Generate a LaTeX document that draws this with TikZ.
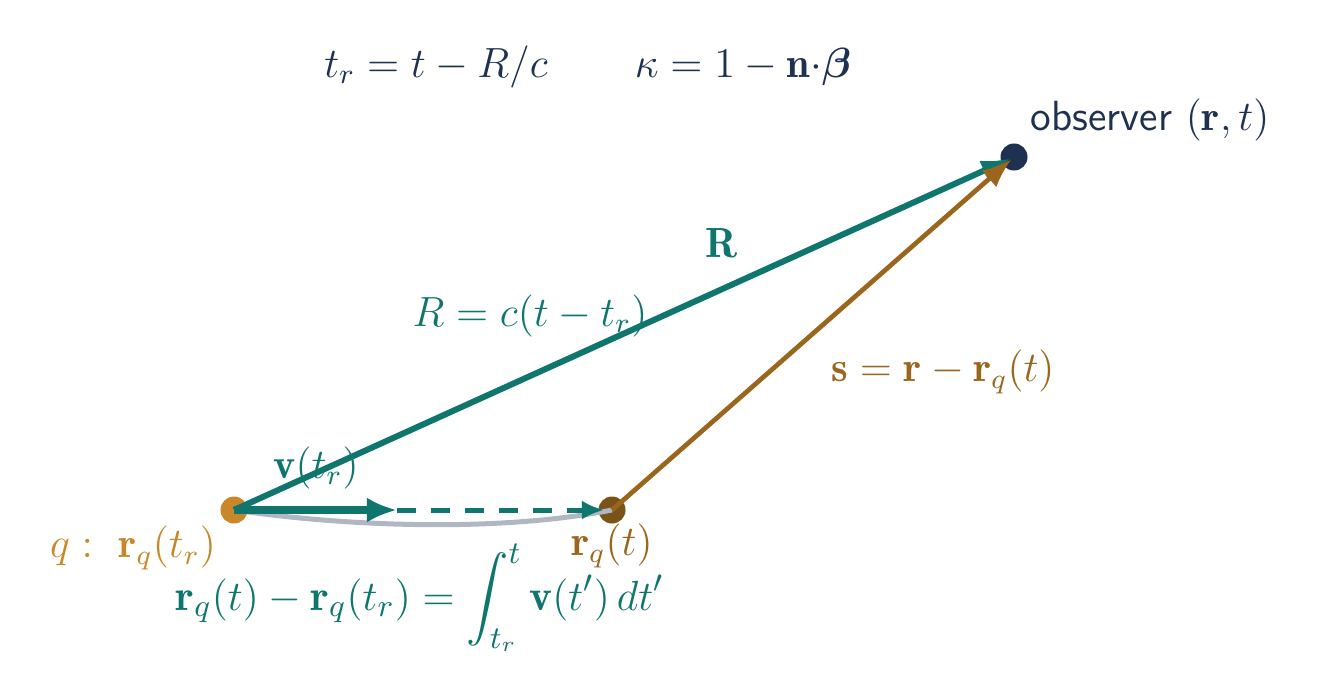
\documentclass[tikz,border=0pt]{standalone}
\usepackage{amsmath}
\usepackage{fontspec}
\usetikzlibrary{arrows.meta}
\definecolor{tealc}{HTML}{0F766E}
\definecolor{navy}{HTML}{1E3150}
\definecolor{gold}{HTML}{C8882A}
\definecolor{brownl}{HTML}{9A661E}
\definecolor{brownd}{HTML}{7A5318}
\definecolor{pathgray}{HTML}{B0B7C3}
\begin{document}
\begin{tikzpicture}[x=0.01cm,y=-0.01cm,
  every node/.style={font=\fontsize{12}{14}\selectfont},
  dot/.style={circle,inner sep=0pt,minimum size=0.27cm},
  lbl/.style={inner sep=0pt}]
\useasboundingbox (0,0) rectangle (1319,697);
% points
\node[dot,fill=gold] (q) at (234,510) {};
\node[dot,fill=brownd] (rq) at (612,510) {};
\node[dot,fill=navy] (obs) at (1014,157) {};
\coordinate (vend) at (397,510);
% path of charge
\draw[pathgray,line width=0.05cm] (q.center) .. controls (350,527) and (500,532) .. (rq.center);
% R vector
\draw[tealc,line width=0.06cm,-{Latex[length=0.3cm,width=0.22cm]},shorten >=0.03cm] (q.center) -- (obs.center);
% velocity
\draw[tealc,line width=0.075cm,-{Latex[length=0.3cm,width=0.25cm]}] (q.center) -- (vend);
\draw[tealc,line width=0.05cm,dash pattern=on 0.19cm off 0.15cm,-{Latex[length=0.22cm,width=0.19cm]},shorten >=0.08cm] (vend) -- (rq.center);
% s vector
\draw[brownl,line width=0.047cm,-{Latex[length=0.3cm,width=0.22cm]},shorten >=0.03cm] (rq.center) -- (obs.center);
% labels
\node[lbl,navy] (f1) at (436,67) {$t_r = t - R/c$};
\node[lbl,navy] (f2) at (743,67) {$\kappa = 1 - \mathbf{n}{\cdot}\boldsymbol{\beta}$};
\node[lbl,navy,anchor=west] (obsl) at (1030,120) {\sffamily observer $(\mathbf{r},t)$};
\node[lbl,tealc] (Rl) at (722,243) {$\mathbf{R}$};
\node[lbl,tealc] (Req) at (530,316) {$R = c(t-t_r)$};
\node[lbl,brownl] (sl) at (943,372) {$\mathbf{s} = \mathbf{r} - \mathbf{r}_q(t)$};
\node[lbl,tealc] (vl) at (316,468) {$\mathbf{v}(t_r)$};
\node[lbl,gold] (ql) at (133,548) {$q:\ \mathbf{r}_q(t_r)$};
\node[lbl,brownl] (rql) at (612,546) {$\mathbf{r}_q(t)$};
\node[lbl,tealc,anchor=base west,font=\fontsize{12.4}{14}\selectfont] (intl) at (175,610) {$\mathbf{r}_q(t) - \mathbf{r}_q(t_r) = \displaystyle\int_{t_r}^{t} \mathbf{v}(t')\,dt'$};
\end{tikzpicture}
\end{document}
